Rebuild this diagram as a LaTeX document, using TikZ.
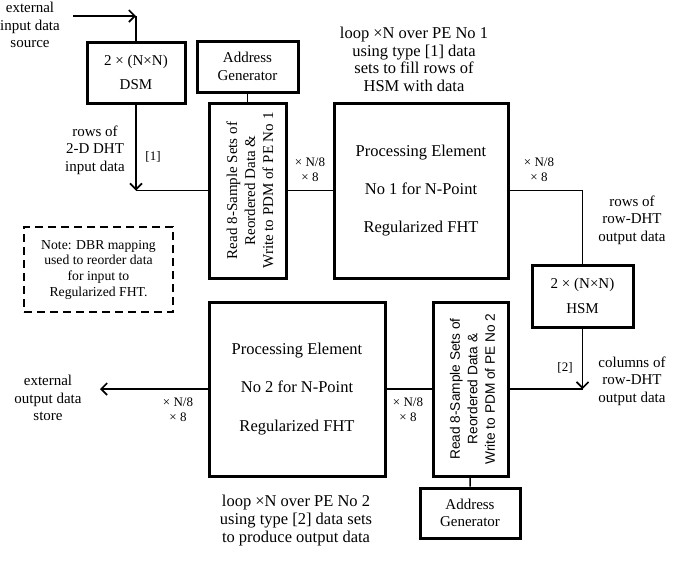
\documentclass[tikz,border=0pt]{standalone}
\usepackage{fontspec}
\setmainfont{Liberation Serif}
\newfontfamily\sansfont{Liberation Sans}
\usetikzlibrary{arrows.meta}
\usetikzlibrary{calc}

\begin{document}
\begin{tikzpicture}[x=1pt, y=-1pt, >={Straight Barb[length=6pt,width=12pt]},
    blk/.style={draw, line width=3pt, inner sep=0pt},
    wire/.style={line width=1.6pt},
    txt/.style={align=center, font=\fontsize{15}{17.5}\selectfont},
    big/.style={align=center, font=\fontsize{16.5}{17.7}\selectfont},
    note/.style={align=center, font=\fontsize{13.7}{15.7}\selectfont},
    mult/.style={align=center, font=\fontsize{13}{15}\selectfont}]
    \useasboundingbox (0,0) rectangle (685,563);
    % memories and address generators
    \node[blk, txt, minimum width=98pt, minimum height=61pt] (dsm) at (136,72.5) {2 × (N×N)\\[7pt]DSM};
    \node[blk, txt, minimum width=101pt, minimum height=62pt] (hsm) at (582.5,296) {2 × (N×N)\\[8pt]HSM};
    \node[blk, txt, minimum width=101pt, minimum height=51pt] (ag1) at (247.5,66.5) {Address\\Generator};
    \node[blk, txt, minimum width=100pt, minimum height=50pt] (ag2) at (470,513) {Address\\Generator};
    % read / write boxes
    \node[blk, minimum width=77pt, minimum height=175pt] (read1) at (247.5,190.5) {};
    \node[rotate=90, align=center, font=\fontsize{15}{18}\selectfont] (read1txt) at (250,190.5)
        {Read 8-Sample Sets of\\Reordered Data \&\\Write to PDM of PE No 1};
    \node[blk, minimum width=75pt, minimum height=174pt] (read2) at (470.5,389) {};
    \node[rotate=90, align=center, font=\sansfont\fontsize{13.7}{17.5}\selectfont] (read2txt) at (472.5,389)
        {Read 8-Sample Sets of\\Reordered Data \&\\Write to PDM of PE No 2};
    % processing elements
    \node[blk, big, minimum width=174pt, minimum height=175pt] (pe1) at (421,190.5)
        {Processing Element\\[20.5pt]No 1 for N-Point\\[20.5pt]Regularized FHT};
    \node[blk, big, minimum width=176pt, minimum height=174pt] (pe2) at (297,389)
        {Processing Element\\[20.5pt]No 2 for N-Point\\[20.5pt]Regularized FHT};
    \node[draw, line width=2pt, dash pattern=on 8pt off 5pt, note, minimum width=149pt, minimum height=85pt] (dbr) at (98.5,269.5)
        {Note: DBR mapping\\used to reorder data\\for input to\\Regularized FHT.};
    % connectors
    \coordinate (extin) at (73,16);
    \coordinate (incorner) at (dsm.north |- extin);
    \coordinate (j1) at (dsm.south |- read1.west);
    \coordinate (j2) at (hsm.south |- read2.east);
    \coordinate (extout) at (100,389);
    \draw[wire, ->] (extin) -- (incorner);
    \draw[wire] (incorner) -- (dsm);
    \draw[wire, ->] (dsm) -- (j1);
    \draw[wire] (j1) -- (read1);
    \draw[wire] (ag1) -- (read1);
    \draw[wire] (read1) -- (pe1);
    \draw[wire] (pe1.east) -| (hsm.north);
    \draw[wire, ->] (hsm) -- (j2);
    \draw[wire] (j2) -- (read2);
    \draw[wire] (read2) -- (ag2);
    \draw[wire] (pe2) -- (read2);
    \draw[wire, ->] (pe2) -- (extout);
    % labels
    \node[txt] (insrc) at (30,25) {external\\input data\\source};
    \node[txt] (rows1) at (95,150) {rows of\\2-D DHT\\input data};
    \node[mult] (tag1) at (153,157) {[1]};
    \node[mult] (m1) at (310,170) {× N/8\\× 8};
    \node[big] (loop1) at (414,59.5) {loop ×N over PE No 1\\using type [1] data\\sets to fill rows of\\HSM with data};
    \node[mult] (m2) at (539,170) {× N/8\\× 8};
    \node[txt] (rows2) at (632,220) {rows of\\row-DHT\\output data};
    \node[mult] (tag2) at (565,368) {[2]};
    \node[txt] (cols) at (632,381) {columns of\\row-DHT\\output data};
    \node[mult] (m3) at (408,410) {× N/8\\× 8};
    \node[mult] (m4) at (178,410) {× N/8\\× 8};
    \node[txt] (outst) at (48,398) {external\\output data\\store};
    \node[big] (loop2) at (296,520.5) {loop ×N over PE No 2\\using type [2] data sets\\to produce output data};
\end{tikzpicture}
\end{document}
